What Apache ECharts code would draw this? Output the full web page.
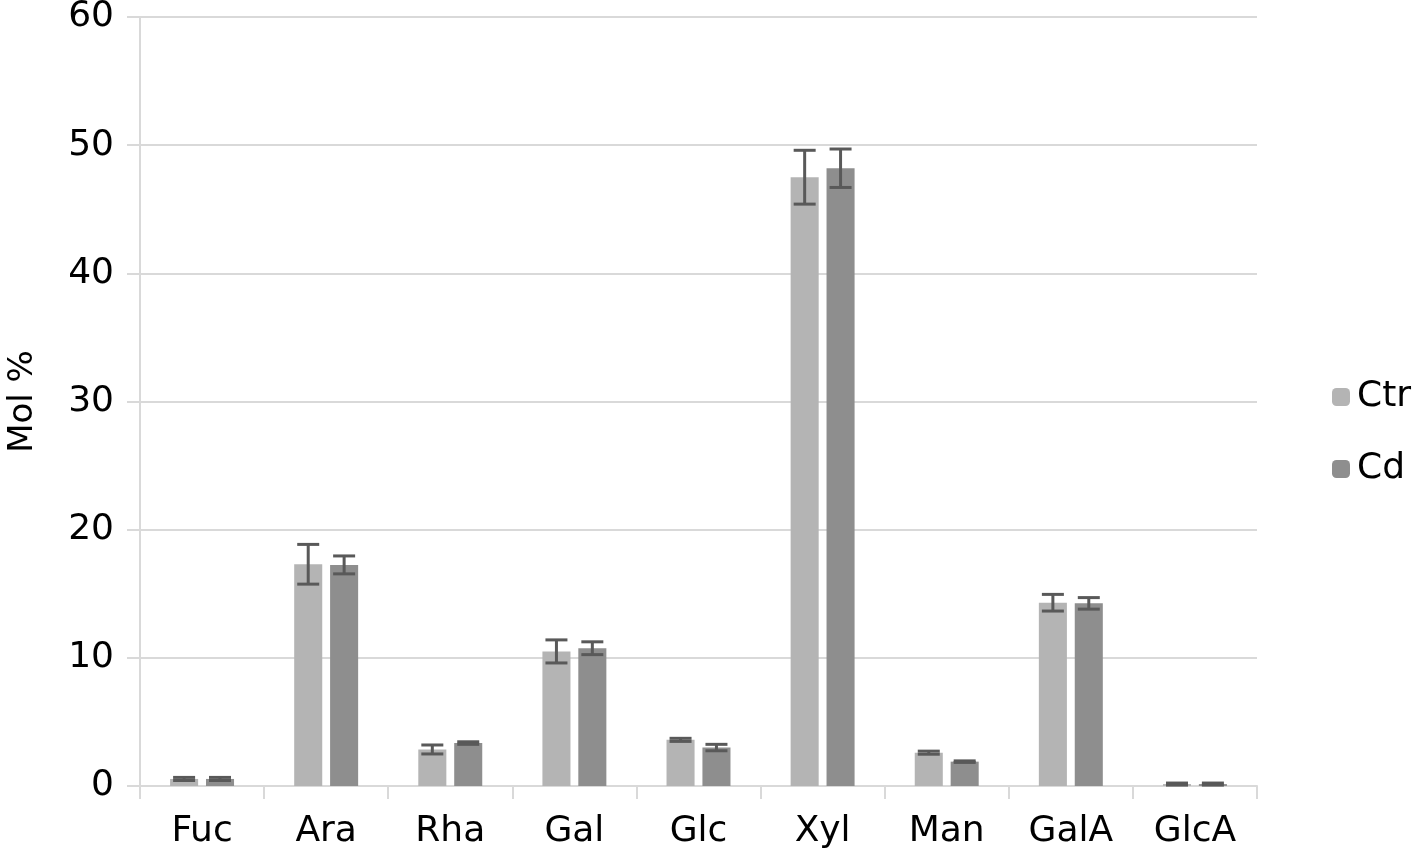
<!DOCTYPE html>
<html>
<head>
<meta charset="utf-8">
<script src="https://cdn.jsdelivr.net/npm/echarts@6/dist/echarts.min.js"></script>
<style>html,body{margin:0;padding:0;background:#fff;}#c{width:1418px;height:855px;}</style>
</head>
<body>
<div id="c"></div>
<script>
const categories = ['Fuc', 'Ara', 'Rha', 'Gal', 'Glc', 'Xyl', 'Man', 'GalA', 'GlcA'];
const ctrValues = [0.55, 17.3, 2.85, 10.5, 3.6, 47.5, 2.6, 14.3, 0.15];
const ctrErrors = [0.12, 1.55, 0.35, 0.9, 0.12, 2.1, 0.12, 0.65, 0.08];
const cdValues = [0.55, 17.25, 3.35, 10.75, 3.0, 48.2, 1.9, 14.25, 0.15];
const cdErrors = [0.12, 0.7, 0.1, 0.5, 0.25, 1.5, 0.06, 0.45, 0.08];
const yTicks = [0, 10, 20, 30, 40, 50, 60];

const FONT = 'DejaVu Sans';
const FS = 36;
const BAR_W = 0.226; // fraction of band
const GAP = 0.28;    // fraction of bar width

function errSeries(name, values, errors, idx) {
  return {
    type: 'custom',
    name: name + ' err',
    z: 10,
    silent: true,
    data: values.map((v, i) => [i, v, errors[i]]),
    renderItem: function (params, api) {
      const i = api.value(0), v = api.value(1), e = api.value(2);
      const band = api.size([1, 0])[0];
      const bw = band * BAR_W;
      const off = (bw + bw * GAP) / 2 * (idx === 0 ? -1 : 1);
      const top = api.coord([i, v + e]);
      const bot = api.coord([i, v - e]);
      const x = top[0] + off;
      const cap = 11;
      const style = { stroke: '#595959', lineWidth: 3 };
      return {
        type: 'group',
        children: [
          { type: 'line', shape: { x1: x, y1: top[1], x2: x, y2: bot[1] }, style: style },
          { type: 'line', shape: { x1: x - cap, y1: top[1], x2: x + cap, y2: top[1] }, style: style },
          { type: 'line', shape: { x1: x - cap, y1: bot[1], x2: x + cap, y2: bot[1] }, style: style }
        ]
      };
    }
  };
}

const chart = echarts.init(document.getElementById('c'));
chart.setOption({
  animation: false,
  backgroundColor: '#ffffff',
  textStyle: { fontFamily: FONT },
  grid: { left: 140, right: 161, top: 17, bottom: 69, containLabel: false, outerBoundsMode: 'none' },
  legend: {
    orient: 'vertical',
    left: 1327,
    top: 374,
    itemWidth: 18,
    itemHeight: 18,
    itemGap: 36,
    data: ['Ctr', 'Cd'],
    textStyle: { fontFamily: FONT, fontSize: FS, color: '#000', padding: [0, 0, 0, 2] }
  },
  xAxis: {
    type: 'category',
    data: categories,
    axisLine: { lineStyle: { color: '#d9d9d9', width: 2 } },
    axisTick: { show: true, length: 13, lineStyle: { color: '#d9d9d9', width: 2 } },
    axisLabel: { fontFamily: FONT, fontSize: FS, color: '#000', margin: 28 }
  },
  yAxis: {
    type: 'value',
    min: yTicks[0],
    max: yTicks[yTicks.length - 1],
    interval: 10,
    name: 'Mol %',
    nameLocation: 'middle',
    nameGap: 100,
    nameTextStyle: { fontFamily: FONT, fontSize: 34, color: '#000' },
    axisLine: { show: true, lineStyle: { color: '#d9d9d9', width: 2 } },
    axisTick: { show: true, length: 13, lineStyle: { color: '#d9d9d9', width: 2 } },
    splitLine: { lineStyle: { color: '#d9d9d9', width: 2 } },
    axisLabel: { fontFamily: FONT, fontSize: FS, color: '#000', margin: 26 }
  },
  series: [
    {
      name: 'Ctr', type: 'bar', data: ctrValues,
      barWidth: (BAR_W * 100) + '%', barGap: (GAP * 100) + '%',
      itemStyle: { color: '#b4b4b4' }
    },
    {
      name: 'Cd', type: 'bar', data: cdValues,
      barWidth: (BAR_W * 100) + '%', barGap: (GAP * 100) + '%',
      itemStyle: { color: '#8e8e8e' }
    },
    errSeries('Ctr', ctrValues, ctrErrors, 0),
    errSeries('Cd', cdValues, cdErrors, 1)
  ]
});
</script>
</body>
</html>
